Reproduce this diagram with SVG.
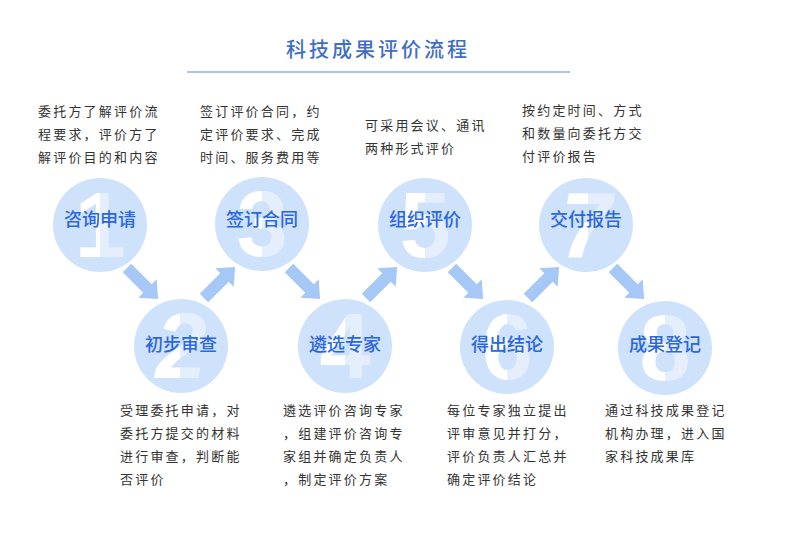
<svg xmlns="http://www.w3.org/2000/svg" width="804" height="537" viewBox="0 0 804 537">
<style>
.title{font-family:"Noto Sans CJK SC","Noto Sans",sans-serif;font-size:20px;font-weight:500;fill:#3f6fc2;letter-spacing:3px;text-anchor:middle}
.circ{fill:#cfe2fb}
.num{font-family:"Liberation Sans","DejaVu Sans",sans-serif;font-weight:bold;font-size:92px;text-anchor:middle;fill:url(#half)}
.lab{font-family:"Noto Sans CJK SC","Noto Sans",sans-serif;font-size:18px;font-weight:500;fill:#2b67dd;text-anchor:middle}
.desc{font-family:"Noto Sans CJK SC","Noto Sans",sans-serif;font-size:13px;fill:#333333;letter-spacing:2.2px}
.arrow{fill:#a6c8f6}
</style>
<defs>
<linearGradient id="half" x1="0" y1="0" x2="1" y2="0">
<stop offset="0.5" stop-color="#ffffff"/>
<stop offset="0.5" stop-color="#e4eefd"/>
</linearGradient>
<path id="arr" d="M0,-6 L29,-6 L29,-13 L44,0 L29,13 L29,6 L0,6 Z"/>
</defs>
<rect width="804" height="537" fill="#ffffff"/>
<g id="title">
<text class="title" x="378" y="57">科技成果评价流程</text>
<line x1="187" y1="72" x2="570" y2="72" stroke="#8fb0e2" stroke-width="1.5"/>
</g>
<g id="connectors">
<use href="#arr" class="arrow" transform="translate(127,268) rotate(45)"/>
<use href="#arr" class="arrow" transform="translate(204,298) rotate(-45)"/>
<use href="#arr" class="arrow" transform="translate(289,268) rotate(45)"/>
<use href="#arr" class="arrow" transform="translate(366,298) rotate(-45)"/>
<use href="#arr" class="arrow" transform="translate(452,268) rotate(45)"/>
<use href="#arr" class="arrow" transform="translate(528,298) rotate(-45)"/>
<use href="#arr" class="arrow" transform="translate(613,268) rotate(45)"/>
</g>
<g id="node1">
<circle class="circ" cx="100" cy="225" r="47"/>
<text class="num" x="100" y="257">1</text>
<text class="lab" x="100" y="226">咨询申请</text>
<text class="desc" x="38" y="116">委托方了解评价流</text>
<text class="desc" x="38" y="139">程要求，评价方了</text>
<text class="desc" x="38" y="162">解评价目的和内容</text>
</g>
<g id="node2">
<circle class="circ" cx="181" cy="346" r="47"/>
<text class="num" x="181" y="378" font-style="italic">2</text>
<text class="lab" x="181" y="351">初步审查</text>
<text class="desc" x="120" y="415">受理委托申请，对</text>
<text class="desc" x="120" y="438">委托方提交的材料</text>
<text class="desc" x="120" y="461">进行审查，判断能</text>
<text class="desc" x="120" y="484">否评价</text>
</g>
<g id="node3">
<circle class="circ" cx="262" cy="224" r="47"/>
<text class="num" x="262" y="256">3</text>
<text class="lab" x="262" y="226">签订合同</text>
<text class="desc" x="200" y="116">签订评价合同，约</text>
<text class="desc" x="200" y="139">定评价要求、完成</text>
<text class="desc" x="200" y="162">时间、服务费用等</text>
</g>
<g id="node4">
<circle class="circ" cx="345" cy="346" r="47"/>
<text class="num" x="345" y="378">4</text>
<text class="lab" x="345" y="351">遴选专家</text>
<text class="desc" x="283" y="415">遴选评价咨询专家</text>
<text class="desc" x="283" y="438">，组建评价咨询专</text>
<text class="desc" x="283" y="461">家组并确定负责人</text>
<text class="desc" x="283" y="484">，制定评价方案</text>
</g>
<g id="node5">
<circle class="circ" cx="425" cy="225" r="47"/>
<text class="num" x="425" y="257">5</text>
<text class="lab" x="425" y="226">组织评价</text>
<text class="desc" x="365" y="130">可采用会议、通讯</text>
<text class="desc" x="365" y="153">两种形式评价</text>
</g>
<g id="node6">
<circle class="circ" cx="507" cy="347" r="47"/>
<text class="num" x="507" y="379">6</text>
<text class="lab" x="507" y="351">得出结论</text>
<text class="desc" x="447" y="415">每位专家独立提出</text>
<text class="desc" x="447" y="438">评审意见并打分，</text>
<text class="desc" x="447" y="461">评价负责人汇总并</text>
<text class="desc" x="447" y="484">确定评价结论</text>
</g>
<g id="node7">
<circle class="circ" cx="586" cy="225" r="47"/>
<text class="num" x="586" y="257" font-style="italic">7</text>
<text class="lab" x="586" y="226">交付报告</text>
<text class="desc" x="522" y="115">按约定时间、方式</text>
<text class="desc" x="522" y="138">和数量向委托方交</text>
<text class="desc" x="522" y="161">付评价报告</text>
</g>
<g id="node8">
<circle class="circ" cx="665" cy="348" r="47"/>
<text class="num" x="665" y="380">8</text>
<text class="lab" x="665" y="351">成果登记</text>
<text class="desc" x="605" y="415">通过科技成果登记</text>
<text class="desc" x="605" y="438">机构办理，进入国</text>
<text class="desc" x="605" y="461">家科技成果库</text>
</g>
</svg>
